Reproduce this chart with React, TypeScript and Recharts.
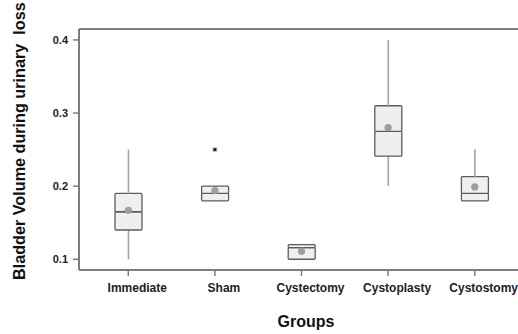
import { Bar, ComposedChart, ReferenceLine, Scatter, XAxis, YAxis } from 'recharts'

const groups = ['Immediate', 'Sham', 'Cystectomy', 'Cystoplasty', 'Cystostomy']
const minValues = [0.1, 0.18, 0.1, 0.2, 0.18]
const q1Values = [0.14, 0.18, 0.1, 0.241, 0.18]
const medianValues = [0.165, 0.19, 0.116, 0.275, 0.19]
const q3Values = [0.19, 0.2, 0.12, 0.31, 0.213]
const maxValues = [0.25, 0.2, 0.12, 0.4, 0.25]
const meanValues = [0.167, 0.194, 0.111, 0.28, 0.199]
const outlierValues: (number | null)[] = [null, 0.25, null, null, null]
const yTicks = [0.1, 0.2, 0.3, 0.4]

const Y_DOMAIN: [number, number] = [0.0853, 0.415]
const FONT = '"Liberation Sans", Arial, sans-serif'
const AXIS = '#7d7d7d'

const data = groups.map((group, i) => ({
  group,
  base: minValues[i],
  lowWhisker: q1Values[i] - minValues[i],
  lowBox: medianValues[i] - q1Values[i],
  highBox: q3Values[i] - medianValues[i],
  highWhisker: maxValues[i] - q3Values[i],
  mean: meanValues[i],
  outlier: outlierValues[i],
}))

const Whisker = (props: any) => {
  const { x, y, width, height } = props
  if (!height || height < 0.5) return null
  const cx = x + width / 2
  return <line x1={cx} x2={cx} y1={y} y2={y + height} stroke="#a3a3a3" strokeWidth={1.6} />
}

const BoxPart = (props: any) => {
  const { x, y, width, height } = props
  if (height == null || height < 0.1) return null
  return (
    <rect x={x} y={y} width={width} height={height} fill="#efefef" stroke="#5c5c5c" strokeWidth={1.3} rx={1} />
  )
}

const MeanDot = (props: any) => {
  const { cx, cy } = props
  if (cx == null || cy == null || Number.isNaN(cy)) return null
  return <circle cx={cx} cy={cy} r={3.6} fill="#9e9e9e" />
}

const OutlierMark = (props: any) => {
  const { cx, cy, payload } = props
  if (payload?.outlier == null || Number.isNaN(cy)) return null
  return (
    <g>
      <rect x={cx - 2.5} y={cy - 2.5} width={5} height={5} fill="#cfcfcf" />
      <rect x={cx - 1.5} y={cy - 1.5} width={3} height={3} fill="#222" />
    </g>
  )
}

const GroupTick = (props: any) => {
  const { x, y, payload } = props
  return (
    <text x={x + 9} y={y + 14} textAnchor="middle" fontFamily={FONT} fontSize={12} fontWeight={700} fill="#222">
      {payload.value}
    </text>
  )
}

const YTitle = () => (
  <text
    x={25}
    y={280}
    transform="rotate(-90 25 280)"
    textAnchor="start"
    fontFamily={FONT}
    fontSize={16.2}
    fontWeight={700}
    fill="#111"
    style={{ whiteSpace: 'pre' }}
  >
    {'Bladder Volume during urinary\u00a0 loss'}
  </text>
)

const XTitle = () => (
  <text x={306} y={327} textAnchor="middle" fontFamily={FONT} fontSize={16} fontWeight={700} fill="#111">
    Groups
  </text>
)

export default function App() {
  return (
    <div style={{ position: 'fixed', left: 0, top: 0, background: '#fff' }}>
      <ComposedChart width={518} height={334} data={data} margin={{ top: 29, right: 0, bottom: 34, left: 0 }}>
        <XAxis
          dataKey="group"
          height={30}
          padding={{ left: 6, right: 0 }}
          tick={<GroupTick />}
          tickSize={6}
          tickLine={{ stroke: AXIS, strokeWidth: 1.5 }}
          axisLine={{ stroke: AXIS, strokeWidth: 2 }}
          interval={0}
          label={<XTitle />}
        />
        <YAxis
          width={79}
          domain={Y_DOMAIN}
          allowDataOverflow
          ticks={yTicks}
          tickSize={6}
          tickMargin={5}
          tickFormatter={(v: number) => v.toFixed(1)}
          tick={{ fontFamily: FONT, fontSize: 11, fontWeight: 700, fill: '#222' }}
          tickLine={{ stroke: AXIS, strokeWidth: 1.5 }}
          axisLine={{ stroke: AXIS, strokeWidth: 2 }}
          label={<YTitle />}
        />
        <ReferenceLine y={Y_DOMAIN[1]} stroke={AXIS} strokeWidth={2} ifOverflow="extendDomain" />
        <Bar dataKey="base" stackId="box" fill="transparent" barSize={27} isAnimationActive={false} />
        <Bar dataKey="lowWhisker" stackId="box" shape={<Whisker />} barSize={27} isAnimationActive={false} />
        <Bar dataKey="lowBox" stackId="box" shape={<BoxPart />} barSize={27} isAnimationActive={false} />
        <Bar dataKey="highBox" stackId="box" shape={<BoxPart />} barSize={27} isAnimationActive={false} />
        <Bar dataKey="highWhisker" stackId="box" shape={<Whisker />} barSize={27} isAnimationActive={false} />
        <Scatter dataKey="mean" shape={<MeanDot />} isAnimationActive={false} />
        <Scatter dataKey="outlier" shape={<OutlierMark />} isAnimationActive={false} />
      </ComposedChart>
    </div>
  )
}
